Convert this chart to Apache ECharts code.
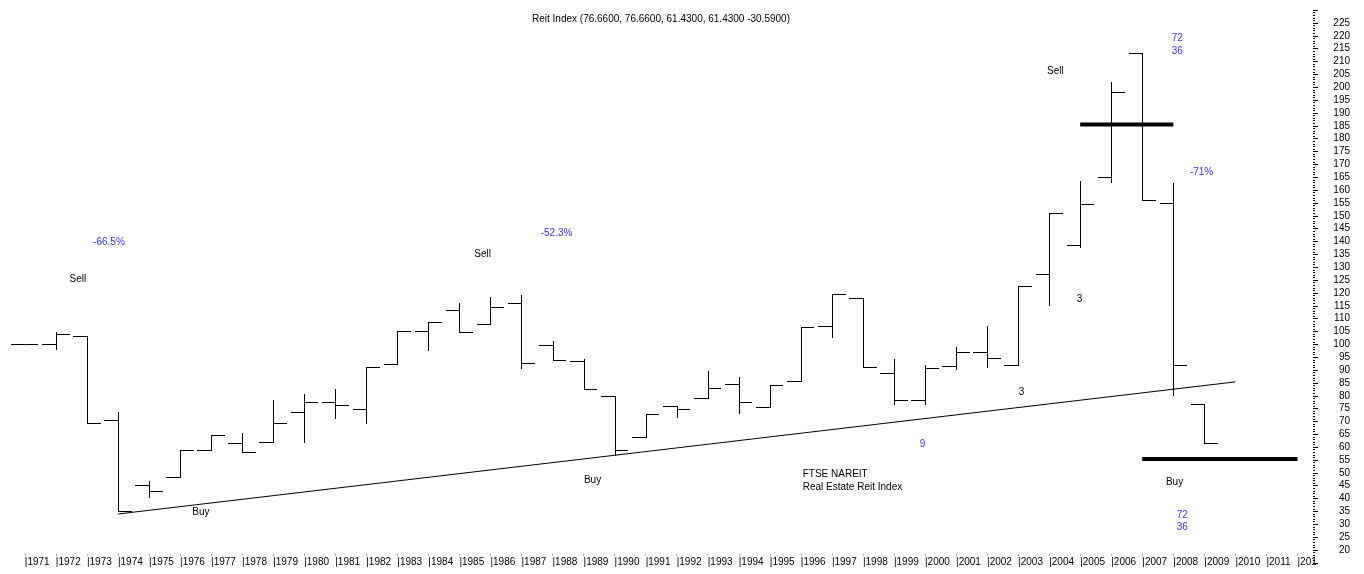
<!DOCTYPE html>
<html><head><meta charset="utf-8">
<script src="https://cdn.jsdelivr.net/npm/echarts@6/dist/echarts.min.js"></script>
<style>html,body{margin:0;padding:0;background:#fff}#c{width:1364px;height:574px}</style>
</head><body><div id="c"></div><script>
// ---- data ----
const years  = [1971,1972,1973,1974,1975,1976,1977,1978,1979,1980,1981,1982,1983,1984,1985,1986,1987,1988,1989,1990,1991,1992,1993,1994,1995,1996,1997,1998,1999,2000,2001,2002,2003,2004,2005,2006,2007,2008,2009];
const opens  = [100,100,103.3,70.7,45.3,48.4,59.0,61.8,62.0,73.7,77.7,74.9,92.4,105.0,113.4,108.0,116.1,99.6,93.4,79.9,63.8,75.9,79.1,84.7,75.5,85.6,107.3,118.0,88.8,78.5,91.6,97.0,92.1,127.5,138.6,165.2,213.4,155.0,76.66];
const highs  = [100,104.7,103.3,73.6,47.0,58.8,64.6,65.5,78.4,80.7,82.5,91.0,105.2,108.6,116.0,118.3,119.1,101.2,94.4,79.9,72.8,75.9,89.8,87.2,84.3,106.6,119.6,118.0,94.2,91.9,98.9,107.3,122.8,151.0,163.7,201.9,213.4,162.7,76.66];
const lows   = [100,98.1,69.5,35.3,40.5,48.4,59.0,58.3,62.0,62.2,71.2,69.5,92.4,97.7,104.8,108.0,90.8,93.9,82.5,57.0,63.8,71.9,79.1,73.4,75.5,85.6,102.8,91.0,76.8,76.8,90.3,91.3,92.1,115.3,138.0,163.0,156.0,80.3,61.43];
const closes = [100,104.0,69.5,35.3,42.9,58.8,64.6,58.3,69.5,77.5,76.4,91.0,105.0,108.6,104.8,114.5,92.6,93.9,82.5,58.9,72.8,75.0,82.9,77.5,84.3,106.6,119.5,91.0,78.5,90.7,97.2,94.8,122.8,151.0,154.6,198.2,156.0,92.02,61.43];

const xTickYears  = [1971,1972,1973,1974,1975,1976,1977,1978,1979,1980,1981,1982,1983,1984,1985,1986,1987,1988,1989,1990,1991,1992,1993,1994,1995,1996,1997,1998,1999,2000,2001,2002,2003,2004,2005,2006,2007,2008,2009,2010,2011,2012];
const xTickLabels = ['1971','1972','1973','1974','1975','1976','1977','1978','1979','1980','1981','1982','1983','1984','1985','1986','1987','1988','1989','1990','1991','1992','1993','1994','1995','1996','1997','1998','1999','2000','2001','2002','2003','2004','2005','2006','2007','2008','2009','2010','2011','201'];

const trendLine  = [[1974, 34.0], [2010, 85.4]];
const sellLevel  = [[2005, 185.5], [2008, 185.5]];
const buyLevel   = [[2007, 55.4], [2012, 55.4]];

const noteYears  = [1972.71,1973.71,1976.67,1985.75,1988.13,1989.29,1996.06,1996.06,1999.92,2003.11,2004.98,2004.20,2008.13,2008.13,2008.91,2008.04,2008.29,2008.29];
const noteValues = [125.4,139.8,34.8,135.2,143.3,47.2,49.6,44.6,61.3,81.5,117.6,206.3,219.2,214.1,167.0,46.5,33.6,29.0];
const noteTexts  = ['Sell','-66.5%','Buy','Sell','-52.3%','Buy','FTSE NAREIT','Real Estate Reit Index','9','3','3','Sell','72','36','-71%','Buy','72','36'];
const noteBlue   = [false,true,false,false,true,false,false,false,true,false,false,false,true,true,true,false,true,true];
const noteLeft   = [false,false,false,false,false,false,true,true,false,false,false,false,false,false,false,false,false,false];

const titleText = 'Reit Index (76.6600, 76.6600, 61.4300, 61.4300 -30.5900)';

// ---- chart ----
const FONT = '"Liberation Sans", Arial, sans-serif';
const BLUE = '#3535ff';
const TICK_YR = 0.44;
const chart = echarts.init(document.getElementById('c'), null, {renderer: 'canvas'});
const px = v => Math.round(v) + 0.5;

const barData = years.map((y, i) => [y, opens[i], highs[i], lows[i], closes[i]]);
const noteData = noteYears.map((y, i) => [y, noteValues[i], i]);

chart.setOption({
  animation: false,
  backgroundColor: '#fff',
  title: {
    text: titleText, left: 527, top: 9,
    textStyle: {fontFamily: FONT, fontSize: 10, fontWeight: 'normal', color: '#000'}
  },
  grid: {left: 0, right: 51, top: 10.15, bottom: 11.15},
  xAxis: {
    type: 'value', min: 1970.2, max: 2012.5, offset: -9,
    splitLine: {show: false},
    axisLine: {show: false},
    axisTick: {show: true, length: 2, customValues: xTickYears, lineStyle: {color: '#9c9cf0'}},
    axisLabel: {
      show: true, customValues: xTickYears, align: 'left', margin: 3,
      fontFamily: FONT, fontSize: 10, color: '#000',
      formatter: v => { const i = xTickYears.indexOf(Math.round(v)); return '|' + (i >= 0 ? xTickLabels[i] : v); }
    }
  },
  yAxis: {
    type: 'value', position: 'right', min: 15, max: 230, interval: 5,
    splitLine: {show: false},
    axisLine: {show: false},
    axisTick: {show: true, length: 5, lineStyle: {color: '#000'}},
    minorTick: {show: true, splitNumber: 5, length: 2, lineStyle: {color: '#000'}},
    axisLabel: {
      align: 'right', margin: 37, fontFamily: FONT, fontSize: 10, color: '#000',
      formatter: v => (v < 20 || v > 225) ? '' : String(v)
    }
  },
  series: [
    {
      type: 'custom', clip: false, data: barData,
      renderItem: (params, api) => {
        const x = api.value(0), o = api.value(1), h = api.value(2), l = api.value(3), c = api.value(4);
        const top = api.coord([x, h]), bot = api.coord([x, l]);
        const oL = api.coord([x - TICK_YR, o]), oR = api.coord([x, o]);
        const cL = api.coord([x, c]), cR = api.coord([x + TICK_YR, c]);
        const st = {stroke: '#000', lineWidth: 1};
        const vx = px(top[0]);
        const kids = [
          {type: 'line', shape: {x1: Math.round(oL[0]), y1: px(oL[1]), x2: vx, y2: px(oR[1])}, style: st},
          {type: 'line', shape: {x1: vx, y1: px(cL[1]), x2: Math.round(cR[0]), y2: px(cR[1])}, style: st}
        ];
        if (Math.abs(top[1] - bot[1]) > 0.5) {
          kids.push({type: 'line', shape: {x1: vx, y1: Math.round(top[1]), x2: vx, y2: Math.round(bot[1]) + 1}, style: st});
        }
        return {type: 'group', children: kids};
      }
    },
    {
      type: 'line', data: trendLine, symbol: 'none', silent: true,
      lineStyle: {color: '#000', width: 1}
    },
    {
      type: 'line', data: sellLevel, symbol: 'none', silent: true,
      lineStyle: {color: '#000', width: 4}
    },
    {
      type: 'line', data: buyLevel, symbol: 'none', silent: true,
      lineStyle: {color: '#000', width: 4}
    },
    {
      type: 'custom', clip: false, data: noteData,
      renderItem: (params, api) => {
        const i = api.value(2);
        const p = api.coord([api.value(0), api.value(1)]);
        return {
          type: 'text', x: p[0], y: p[1],
          style: {
            text: noteTexts[i], fill: noteBlue[i] ? BLUE : '#000',
            font: '10px ' + FONT, align: noteLeft[i] ? 'left' : 'center', verticalAlign: 'middle'
          }
        };
      }
    }
  ]
});
</script></body></html>
